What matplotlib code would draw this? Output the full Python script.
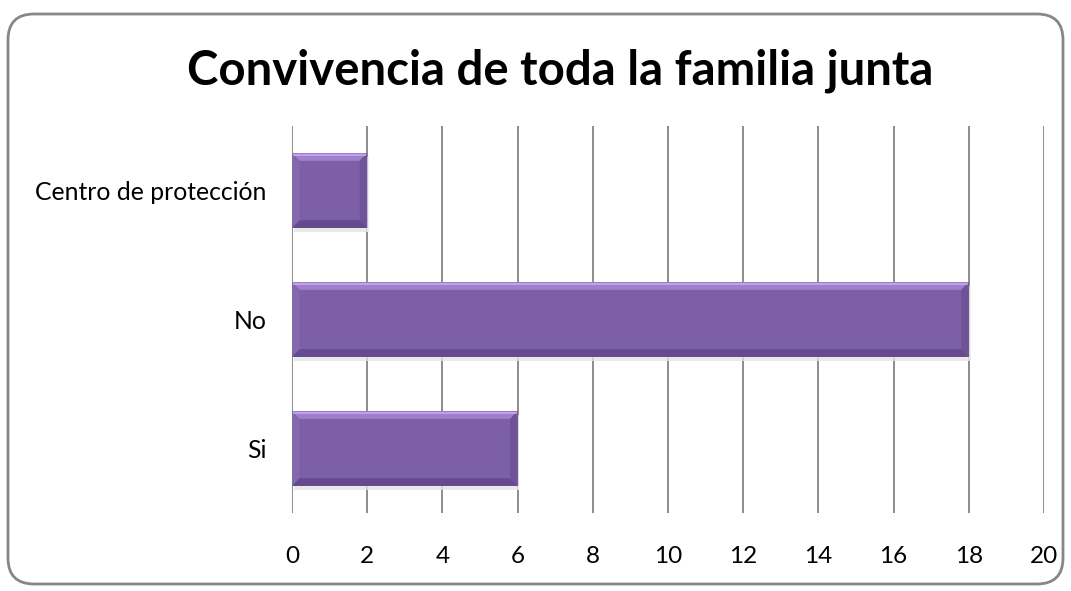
import matplotlib
matplotlib.use("Agg")
import matplotlib.pyplot as plt
from matplotlib.patches import FancyBboxPatch, Polygon, Rectangle
from matplotlib.transforms import IdentityTransform

# ---- data ----
categories = ["Si", "No", "Centro de protección"]
values = [6, 18, 2]
xticks = [0, 2, 4, 6, 8, 10, 12, 14, 16, 18, 20]
title = "Convivencia de toda la familia junta"

plt.rcParams['font.family'] = ['Lato', 'DejaVu Sans']

W, H = 1071, 591
fig = plt.figure(figsize=(W / 100, H / 100), dpi=100)
fig.patch.set_facecolor("white")

# rounded border around chart
border = FancyBboxPatch((8, 7), W - 16, H - 21, boxstyle="round,pad=0,rounding_size=26",
                        transform=IdentityTransform(), facecolor="none",
                        edgecolor="#878787", linewidth=2.0, zorder=0)
fig.patches.append(border)

ax = fig.add_axes([292 / W, 1 - 513 / H, (1044 - 292) / W, (513 - 126) / H])
ax.set_xlim(0, 20)
ax.set_ylim(-0.5, len(categories) - 0.5)
for s in ax.spines.values():
    s.set_visible(False)
ax.set_xticks(xticks)
ax.set_xticklabels([str(t) for t in xticks], fontsize=17.5)
ax.set_yticks(range(len(categories)))
ax.set_yticklabels(categories, fontsize=17.8)
ax.tick_params(axis='x', length=0, pad=23.5)
ax.tick_params(axis='y', length=0, pad=18.5)
ax.grid(axis='x', color="#8c8c8c", linewidth=1.4, zorder=0)
ax.set_axisbelow(True)

bar_h = 0.58
main = "#7D5FA7"
bars = ax.barh(range(len(categories)), values, height=bar_h, color=main,
               edgecolor="none", zorder=3)

bx = 0.2    # bevel width in x data units
by = 0.06   # bevel height in y data units
for i, b in enumerate(bars):
    x0 = b.get_x()
    x1 = x0 + b.get_width()
    y0 = b.get_y()
    y1 = y0 + b.get_height()
    # soft shadow below / right
    ax.add_patch(Rectangle((x0 + 0.05, y0 - 0.03), x1 - x0, 0.03,
                           facecolor="#e4e4e4", edgecolor="none", alpha=0.8, zorder=2))
    ax.add_patch(Rectangle((x1, y0 - 0.03), 0.05, y1 - y0,
                           facecolor="#ececec", edgecolor="none", alpha=0.8, zorder=2))
    # bevels
    ax.add_patch(Polygon([(x0, y1), (x1, y1), (x1 - bx, y1 - by), (x0 + bx, y1 - by)],
                         facecolor="#A080CD", edgecolor="none", zorder=4))
    ax.add_patch(Polygon([(x0, y0), (x1, y0), (x1 - bx, y0 + by), (x0 + bx, y0 + by)],
                         facecolor="#654B8D", edgecolor="none", zorder=4))
    ax.add_patch(Polygon([(x0, y0), (x0, y1), (x0 + bx, y1 - by), (x0 + bx, y0 + by)],
                         facecolor="#8567B0", edgecolor="none", zorder=4))
    ax.add_patch(Polygon([(x1, y0), (x1, y1), (x1 - bx, y1 - by), (x1 - bx, y0 + by)],
                         facecolor="#6E5398", edgecolor="none", zorder=4))
    # thin highlight line along the very top
    ax.plot([x0 + 0.02, x1 - 0.02], [y1 - 0.012, y1 - 0.012], color="#C4A9EC",
            linewidth=1.2, zorder=5, solid_capstyle="butt")

fig.text(560 / W, 1 - 71 / H, title, ha="center", va="center",
         fontsize=34, fontweight="bold")

fig.savefig("out.png", dpi=100, facecolor="white")
